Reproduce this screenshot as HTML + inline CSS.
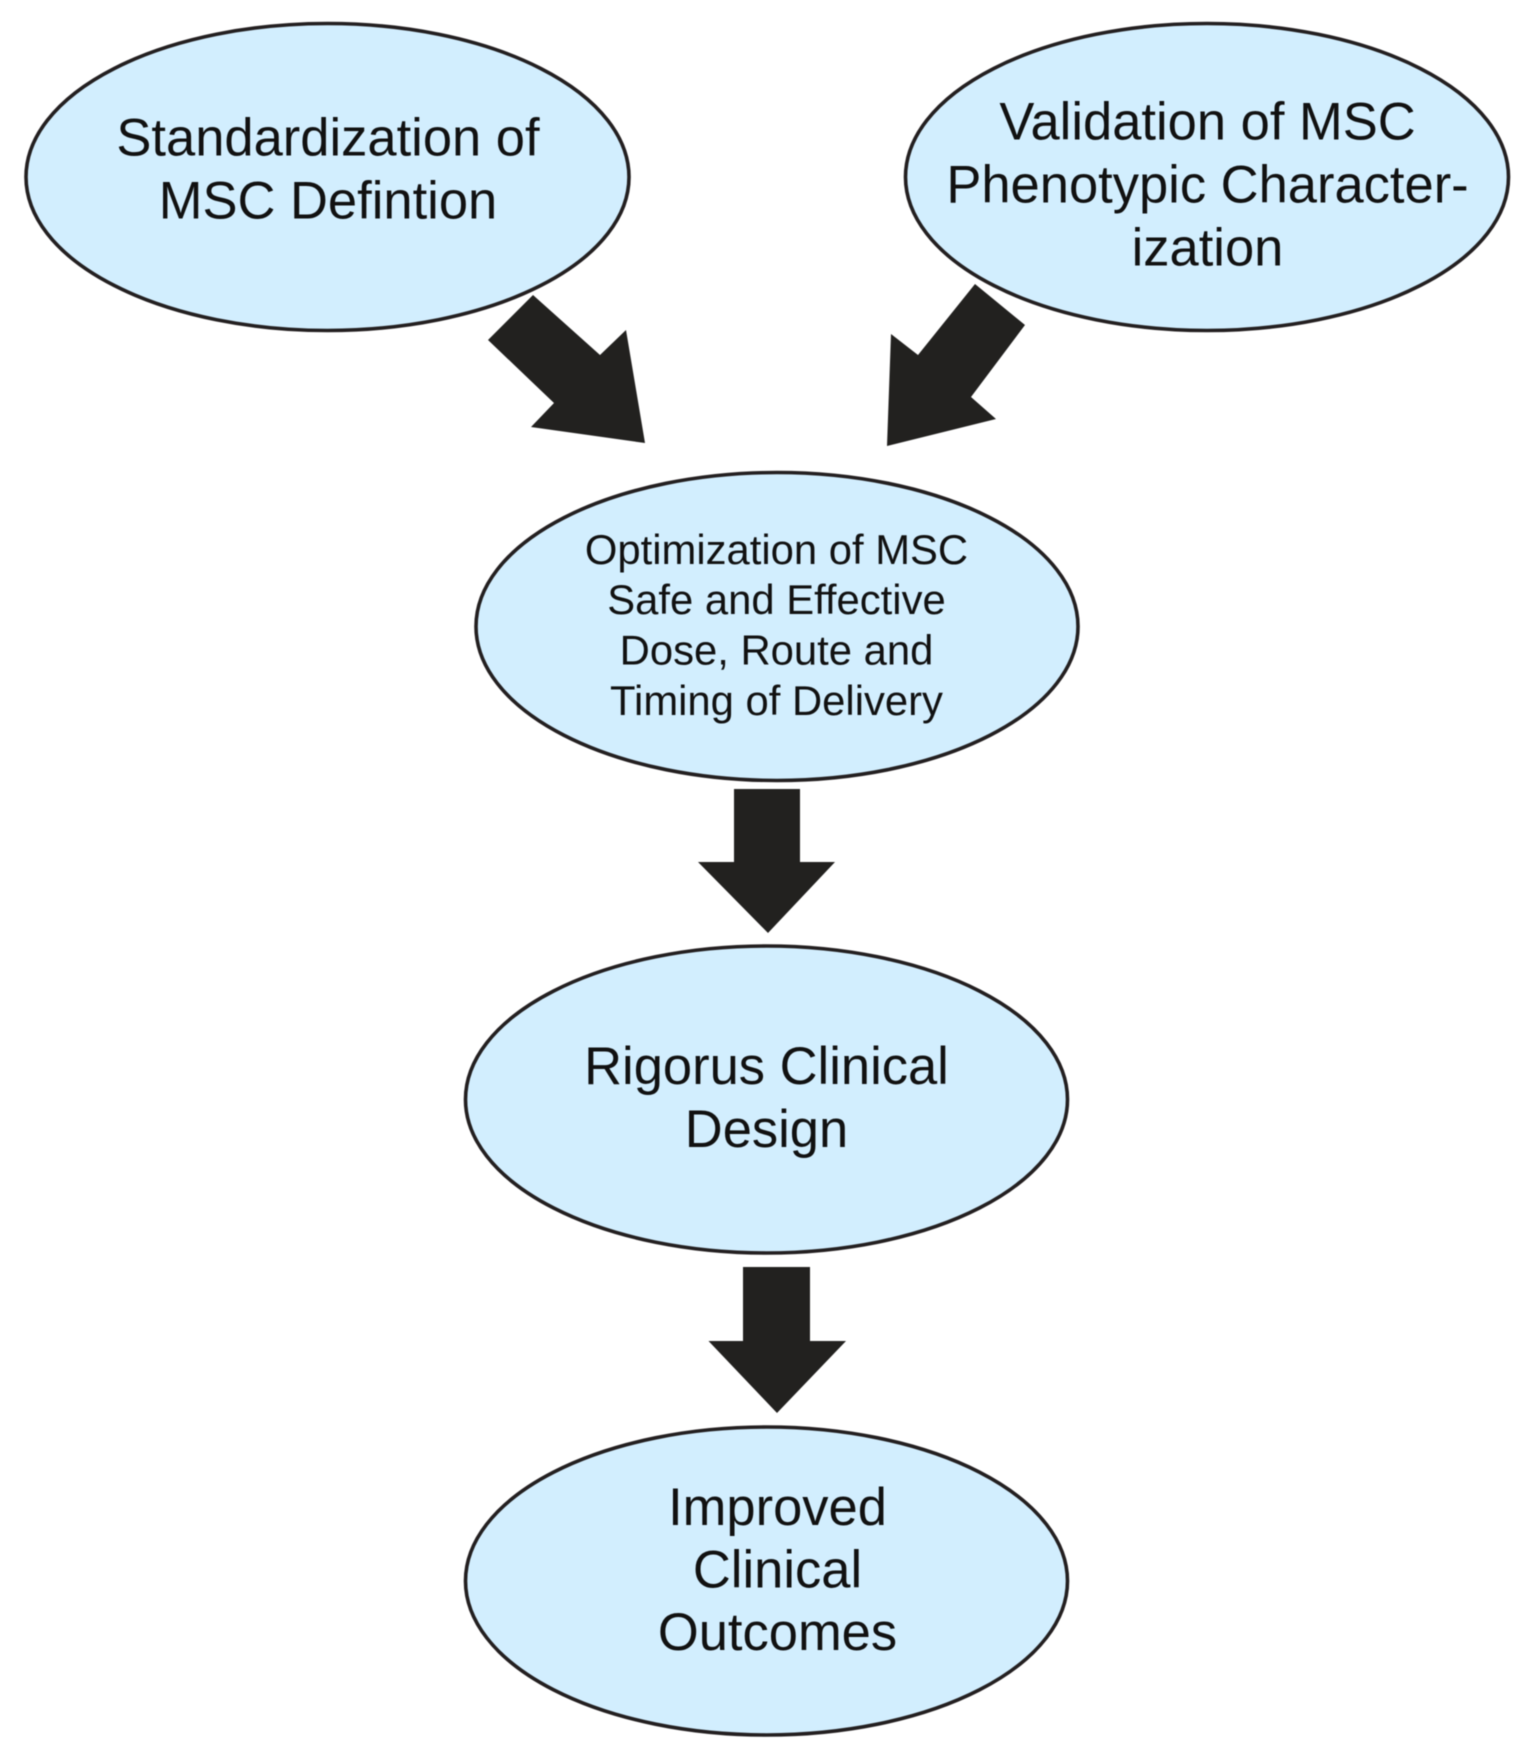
<!DOCTYPE html>
<html lang="en">
<head>
<meta charset="utf-8">
<title>MSC clinical pathway</title>
<style>
html,body{margin:0;padding:0;background:#fff;width:1525px;height:1758px;overflow:hidden}
svg{display:block;filter:blur(0.6px)}
text{font-family:"Liberation Sans",Arial,sans-serif;fill:#111;text-anchor:middle}
.a{font-size:52.5px}
.b{font-size:41.8px}
ellipse{fill:#d2eefe;stroke:#231f20;stroke-width:3.6}
polygon{fill:#22211f}
</style>
</head>
<body>
<svg width="1525" height="1758" viewBox="0 0 1525 1758" xmlns="http://www.w3.org/2000/svg">
<ellipse cx="327.500" cy="177" rx="301.500" ry="153.500"/>
<ellipse cx="1207" cy="177" rx="301.500" ry="153.500"/>
<ellipse cx="777" cy="626.500" rx="301" ry="154"/>
<ellipse cx="766.500" cy="1099.500" rx="301" ry="153.500"/>
<ellipse cx="766.500" cy="1581" rx="301" ry="154"/>
<polygon points="533,295 488,340 554,403 531,427 645,443 626,330 600,355"/>
<polygon points="975,284 1025,325 971,397 996,419 887,446 891,334 918,355"/>
<polygon points="734,789 800,789 800,862 835,862 768,933 698,862 734,862"/>
<polygon points="743,1267 810,1267 810,1341 846,1341 777,1413 708.500,1341 743,1341"/>
<text class="a" x="328" y="155.500">Standardization of</text>
<text class="a" x="328" y="218.500">MSC Defintion</text>
<text class="a" x="1207.500" y="139.500">Validation of MSC</text>
<text class="a" x="1207.500" y="202.500">Phenotypic Character-</text>
<text class="a" x="1207.500" y="265.500">ization</text>
<text class="b" x="776.500" y="564">Optimization of MSC</text>
<text class="b" x="776.500" y="614">Safe and Effective</text>
<text class="b" x="776.500" y="664.500">Dose, Route and</text>
<text class="b" x="776.500" y="715">Timing of Delivery</text>
<text class="a" x="766.500" y="1084">Rigorus Clinical</text>
<text class="a" x="766.500" y="1147">Design</text>
<text class="a" x="777.500" y="1525">Improved</text>
<text class="a" x="777.500" y="1587.500">Clinical</text>
<text class="a" x="777.500" y="1650">Outcomes</text>
</svg>
</body>
</html>
